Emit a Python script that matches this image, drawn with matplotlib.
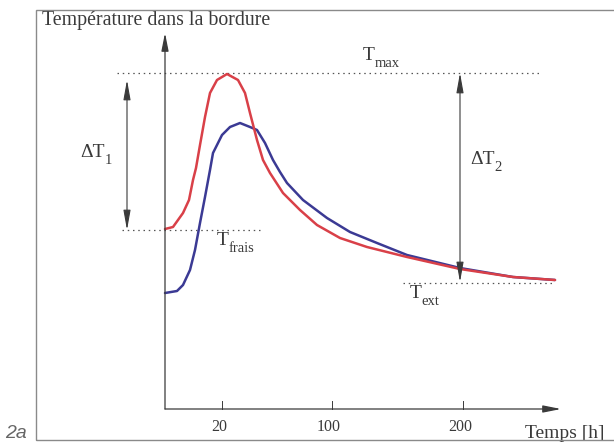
import matplotlib
matplotlib.use("Agg")
import matplotlib.pyplot as plt
from matplotlib.patches import Rectangle

plt.rcParams["font.family"] = ["Liberation Serif", "DejaVu Serif"]

# schematic units: origin at the axes corner
RED_X = [0, 8, 18, 24, 28, 31, 35, 40, 45, 52, 62, 73, 80, 85, 92, 98, 105, 118, 135, 152,
         175, 202, 242, 295, 348, 390]
RED_Y = [180, 182, 196, 209, 229, 241, 264, 292, 316, 329, 335, 329, 316, 296, 269, 249, 236,
         216, 199, 184, 171, 162, 152, 140, 132, 129]
BLUE_X = [0, 12, 18, 25, 30, 35, 40, 45, 48, 57, 65, 75, 85, 92, 100, 108, 115, 122, 138, 162,
          185, 212, 242, 295, 348, 390]
BLUE_Y = [116, 118, 124, 139, 159, 186, 212, 239, 256, 274, 282, 286, 282, 279, 266, 249, 237,
          226, 209, 191, 177, 166, 154, 141, 132, 129]

T_MAX, T_FRAIS, T_EXT = 336, 179, 126
TICK_POS = [57, 167, 298]
TICK_LABELS = ["20", "100", "200"]

INK = "#3a3a3a"
RED = "#d94048"
BLUE = "#3b3a94"

fig = plt.figure(figsize=(6.14, 4.43), dpi=100)
fig.patch.set_facecolor("white")
ax = fig.add_axes([0, 0, 1, 1])
ax.set_xlim(-165, 449)
ax.set_ylim(-34, 409)
ax.axis("off")

# outer frame (runs off the right edge)
fig.patches.append(Rectangle((36 / 614, 3 / 443), 1.2, 430 / 443, transform=fig.transFigure,
                             fill=False, edgecolor="#8a8a8a", linewidth=1.0))

# axes with arrows
arr = dict(arrowstyle="-|>,head_length=0.9,head_width=0.18", color=INK, lw=0.9,
           shrinkA=0, shrinkB=0, mutation_scale=12)
ax.annotate("", xy=(0, 376), xytext=(0, 0), arrowprops=arr)
ax.annotate("", xy=(396, 0), xytext=(0, 0), arrowprops=arr)
for xp, lab in zip(TICK_POS, TICK_LABELS):
    ax.plot([xp, xp], [0, 8], color=INK, lw=0.7)
    ax.text(xp - 3, -18, lab, ha="center", va="center", fontsize=11.5, color=INK)

# reference levels
dot = dict(color="#555555", lw=0.9, linestyle=(0, (1.2, 3.0)))
ax.plot([-48, 377], [T_MAX, T_MAX], **dot)
ax.plot([-43, 95], [T_FRAIS, T_FRAIS], **dot)
ax.plot([238, 390], [T_EXT, T_EXT], **dot)

# curves
ax.plot(BLUE_X, BLUE_Y, color=BLUE, lw=1.8, solid_joinstyle="round", solid_capstyle="round")
ax.plot(RED_X, RED_Y, color=RED, lw=1.8, solid_joinstyle="round", solid_capstyle="round")

# delta arrows
darr = dict(arrowstyle="<|-|>,head_length=1.0,head_width=0.18", color=INK, lw=0.8,
            shrinkA=0, shrinkB=0, mutation_scale=12)
ax.annotate("", xy=(-38, 329), xytext=(-38, T_FRAIS), arrowprops=darr)
ax.annotate("", xy=(295, T_MAX), xytext=(295, 127), arrowprops=darr)


def sub_label(x, y, main, sub, dx):
    ax.text(x, y, main, ha="left", va="baseline", fontsize=14, color=INK)
    ax.annotate(sub, (x, y), textcoords="offset points", xytext=(dx, -5),
                ha="left", va="baseline", fontsize=10.5, color=INK)


sub_label(198, 349, "T", "max", 8.5)
sub_label(-85, 252, "ΔT", "1", 17.5)
sub_label(305, 245, "ΔT", "2", 17.5)
sub_label(52, 164, "T", "frais", 8.5)
sub_label(245, 111, "T", "ext", 8.5)

ax.text(-123, 398, "Température dans la bordure", ha="left", va="top", fontsize=14.3, color=INK)
ax.text(400, -24, "Temps [h]", ha="center", va="center", fontsize=14, color=INK)
fig.text(5 / 614, 1 - 433 / 443, "2a", ha="left", va="center", fontsize=14, style="italic",
         family="Liberation Sans", color="#666666")

fig.savefig("out.png", dpi=100)
